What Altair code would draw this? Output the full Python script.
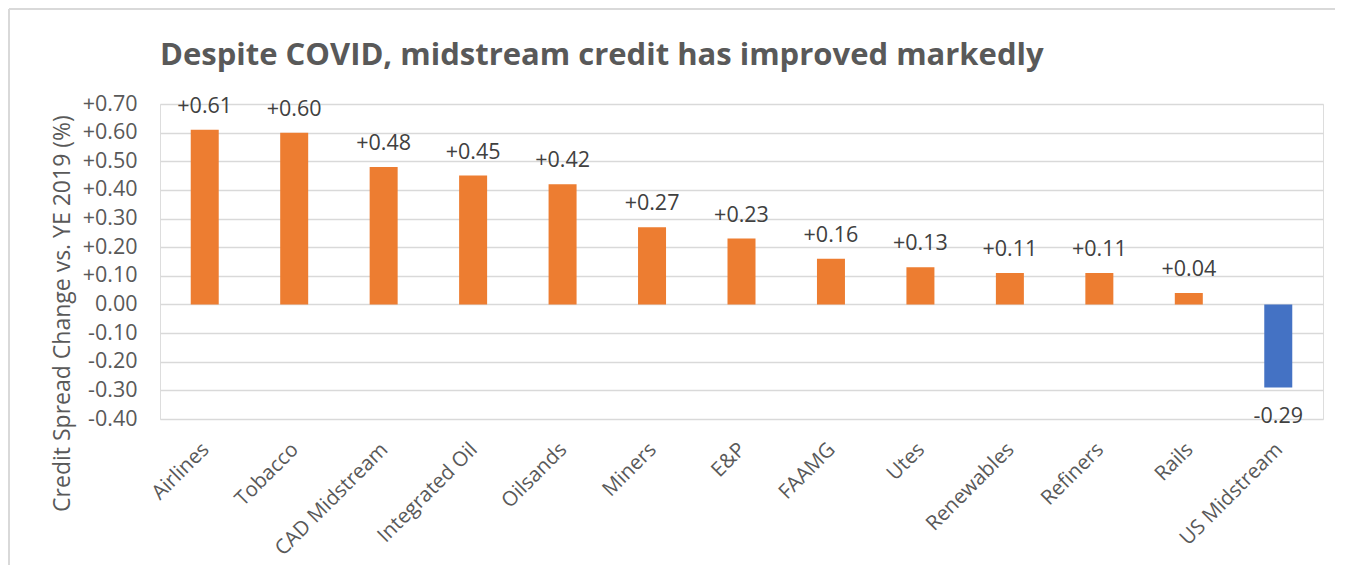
import altair as alt
import pandas as pd

categories = ["Airlines", "Tobacco", "CAD Midstream", "Integrated Oil", "Oilsands",
              "Miners", "E&P", "FAAMG", "Utes", "Renewables", "Refiners", "Rails",
              "US Midstream"]
values = [0.61, 0.60, 0.48, 0.45, 0.42, 0.27, 0.23, 0.16, 0.13, 0.11, 0.11, 0.04, -0.29]
y_ticks = [-0.4, -0.3, -0.2, -0.1, 0.0, 0.1, 0.2, 0.3, 0.4, 0.5, 0.6, 0.7]

df = pd.DataFrame({
    "cat": categories,
    "val": values,
    "label": [f"{v:+.2f}" for v in values],
})

FONT = "Open Sans"
GRAY = "#595959"

x_enc = alt.X("cat:N", sort=None, title=None,
              axis=alt.Axis(labelAngle=-45, labelFontSize=20.5, labelFont=FONT,
                            labelColor=GRAY, labelPadding=20, labelOffset=-6, ticks=False,
                            domain=False, labelAlign="right", labelBaseline="top"))
y_enc = alt.Y("val:Q", scale=alt.Scale(domain=[-0.4, 0.7], nice=False, zero=False),
              title="Credit Spread Change vs. YE 2019 (%)",
              axis=alt.Axis(values=y_ticks, ticks=False, domain=False, labelOverlap=False,
                            labelExpr="datum.value > 0.0001 ? '+' + format(datum.value, '.2f') : (datum.value < -0.0001 ? '-' + format(-datum.value, '.2f') : '0.00')",
                            labelFontSize=21.5, labelFont=FONT, labelColor=GRAY,
                            labelPadding=23, grid=True, gridColor="#D9D9D9", gridWidth=1.3,
                            titleFont=FONT, titleFontSize=23, titleFontWeight="normal",
                            titleColor=GRAY, titleX=-98, titleY=209,
                            titleBaseline="middle", titleAlign="center"))

base = alt.Chart(df)

bars = base.mark_bar(size=28).encode(
    x=x_enc, y=y_enc,
    color=alt.condition(alt.datum.val < 0, alt.value("#4472C4"), alt.value("#ED7D31")),
)

pos_text = base.transform_filter(alt.datum.val >= 0).mark_text(
    baseline="alphabetic", dy=-17, fontSize=21.5, font=FONT, color="#404040"
).encode(x=x_enc, y=y_enc, text="label:N")

neg_text = base.transform_filter(alt.datum.val < 0).mark_text(
    baseline="top", dy=18, fontSize=21.5, font=FONT, color="#404040"
).encode(x=x_enc, y=y_enc, text="label:N")

frame_left = alt.Chart(df).mark_rule(color="#D9D9D9", strokeWidth=2).encode(
    x=alt.value(-151), y=alt.value(-95), y2=alt.value(470))
frame_top = alt.Chart(df).mark_rule(color="#D9D9D9", strokeWidth=2).encode(
    x=alt.value(-151), x2=alt.value(1175), y=alt.value(-95))

chart = alt.layer(frame_left, frame_top, bars, pos_text, neg_text).properties(
    width=1163, height=315,
    autosize=alt.AutoSizeParams(type="none"),
    padding={"left": 152, "top": 96, "right": 16, "bottom": 146},
    title=alt.TitleParams("Despite COVID, midstream credit has improved markedly",
                          anchor="start", frame="group", font=FONT, fontSize=31,
                          fontWeight="bold", color=GRAY, offset=-64),
).configure_view(stroke=None).configure(background="white")

chart.save("out.html", embed_options={"renderer": "svg", "actions": False})
